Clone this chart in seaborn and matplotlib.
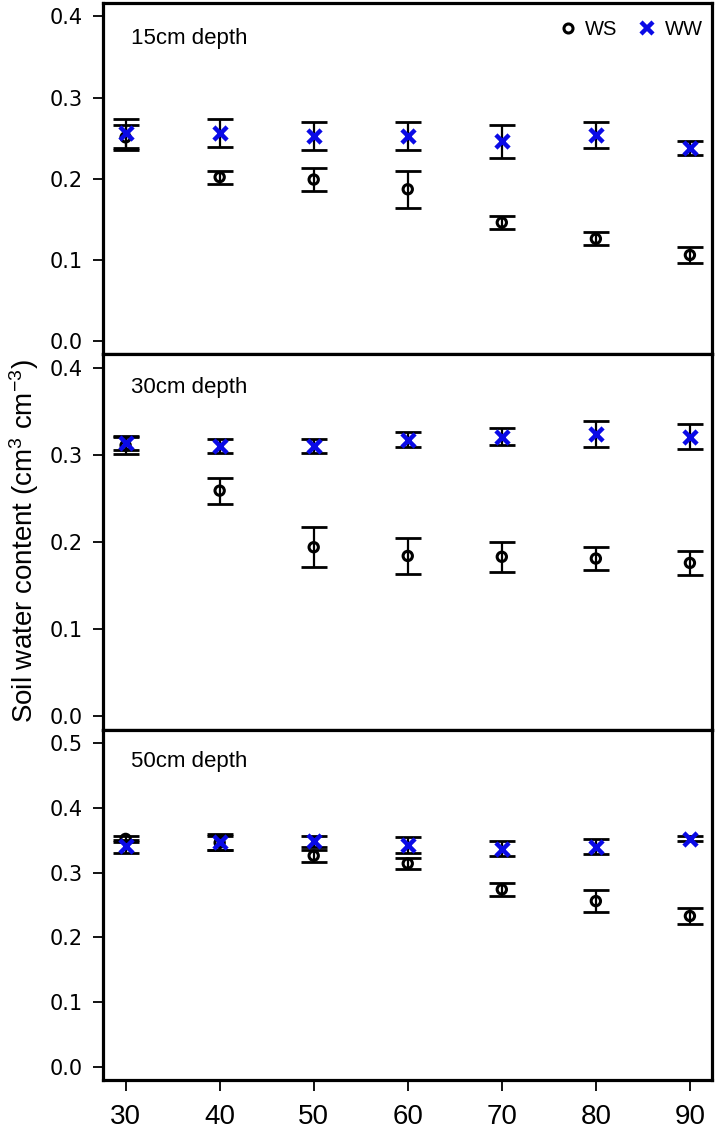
import numpy as np
import pandas as pd
import seaborn as sns
import matplotlib.pyplot as plt
from matplotlib.lines import Line2D

# days after treatment
days = [30, 40, 50, 60, 70, 80, 90]

# 15 cm
ws_15 = [0.251, 0.202, 0.199, 0.187, 0.146, 0.126, 0.106]
ws_15_err = [0.015, 0.008, 0.014, 0.023, 0.008, 0.008, 0.010]
ww_15 = [0.256, 0.256, 0.253, 0.253, 0.246, 0.254, 0.238]
ww_15_err = [0.018, 0.0175, 0.017, 0.017, 0.020, 0.016, 0.009]

# 30 cm
ws_30 = [0.311, 0.259, 0.194, 0.184, 0.183, 0.181, 0.176]
ws_30_err = [0.010, 0.015, 0.023, 0.021, 0.017, 0.013, 0.0135]
ww_30 = [0.314, 0.310, 0.310, 0.3175, 0.321, 0.324, 0.321]
ww_30_err = [0.008, 0.008, 0.008, 0.0085, 0.010, 0.015, 0.014]

# 50 cm
ws_50 = [0.352, 0.346, 0.326, 0.314, 0.274, 0.256, 0.233]
ws_50_err = [0.005, 0.011, 0.009, 0.009, 0.010, 0.017, 0.013]
ww_50 = [0.341, 0.347, 0.348, 0.343, 0.337, 0.340, 0.352]
ww_50_err = [0.010, 0.012, 0.008, 0.012, 0.0115, 0.0115, 0.004]

depths = ['15cm depth', '30cm depth', '50cm depth']
ytops = [0.4, 0.4, 0.5]

rows = []
for d, ws, wse, ww, wwe in zip(depths, [ws_15, ws_30, ws_50], [ws_15_err, ws_30_err, ws_50_err],
                               [ww_15, ww_30, ww_50], [ww_15_err, ww_30_err, ww_50_err]):
    for i, x in enumerate(days):
        rows.append({'depth': d, 'day': x, 'trt': 'WS', 'swc': ws[i], 'err': wse[i]})
        rows.append({'depth': d, 'day': x, 'trt': 'WW', 'swc': ww[i], 'err': wwe[i]})
df = pd.DataFrame(rows)

sns.set_style('ticks', {'axes.edgecolor': 'black', 'xtick.color': 'black', 'ytick.color': 'black',
                        'text.color': 'black', 'axes.labelcolor': 'black'})
plt.rcParams['font.family'] = ['Liberation Sans', 'DejaVu Sans']
plt.rcParams['mathtext.default'] = 'regular'

fig = plt.figure(figsize=(7.17, 11.28), dpi=100)
# panel boxes in figure fraction (left, bottom, width, height)
boxes = [(0.1437, 0.6862, 0.850, 0.3107),
         (0.1437, 0.3528, 0.850, 0.3334),
         (0.1437, 0.0426, 0.850, 0.3102)]

blue = '#0a0ae6'
for k, (dname, top) in enumerate(zip(depths, ytops)):
    ax = fig.add_axes(boxes[k])
    sub = df[df['depth'] == dname]
    for trt in ['WS', 'WW']:
        s = sub[sub['trt'] == trt]
        ax.errorbar(s['day'], s['swc'], yerr=s['err'], fmt='none', ecolor='black',
                    elinewidth=1.6, capsize=9.5, capthick=2.0, zorder=2)
    sns.scatterplot(data=sub[sub['trt'] == 'WS'], x='day', y='swc', ax=ax, marker='o', s=45,
                    facecolor='none', edgecolor='black', linewidth=2.2, zorder=3)
    sns.scatterplot(data=sub[sub['trt'] == 'WW'], x='day', y='swc', ax=ax, marker='x', s=90,
                    color=blue, linewidth=3.2, zorder=4)

    pad = top * 0.04
    ax.set_xlim(27.6, 92.4)
    ax.set_ylim(-pad, top + pad)
    ax.set_yticks(np.arange(0, top + 0.01, 0.1))
    ax.set_yticklabels(['%.1f' % v for v in np.arange(0, top + 0.01, 0.1)],
                       family='DejaVu Sans', fontsize=15)
    ax.set_xlabel('')
    ax.set_ylabel('')
    for sp in ax.spines.values():
        sp.set_visible(True)
        sp.set_linewidth(2.3)
        sp.set_color('black')
    ax.tick_params(axis='y', length=7.5, width=1.3, pad=7, colors='black')
    if k < 2:
        ax.set_xticks([])
    else:
        ax.set_xticks(days)
        ax.set_xticklabels([str(d) for d in days], fontsize=20)
        ax.tick_params(axis='x', length=8, width=1.3, pad=9, colors='black')
    ax.text(0.046, 0.90 if k == 0 else 0.91, dname, transform=ax.transAxes,
            fontsize=16, va='center', ha='left', color='black')

    if k == 0:
        handles = [Line2D([], [], marker='o', ls='none', mfc='none', mec='black', mew=2.2, ms=6.5),
                   Line2D([], [], marker='x', ls='none', color=blue, mew=3.2, ms=9)]
        leg = ax.legend(handles, ['WS', 'WW'], loc='center right', bbox_to_anchor=(1.0, 0.925),
                        ncol=2, frameon=False, fontsize=14.5, handletextpad=0.25,
                        columnspacing=0.9, borderaxespad=0.1, handlelength=1.2)
        for t in leg.get_texts():
            t.set_color('black')

fig.text(0.034, 0.52, 'Soil water content (cm$^{3}$ cm$^{-3}$)', rotation=90,
         ha='center', va='center', fontsize=20, color='black')

fig.savefig('out.png', dpi=100)
